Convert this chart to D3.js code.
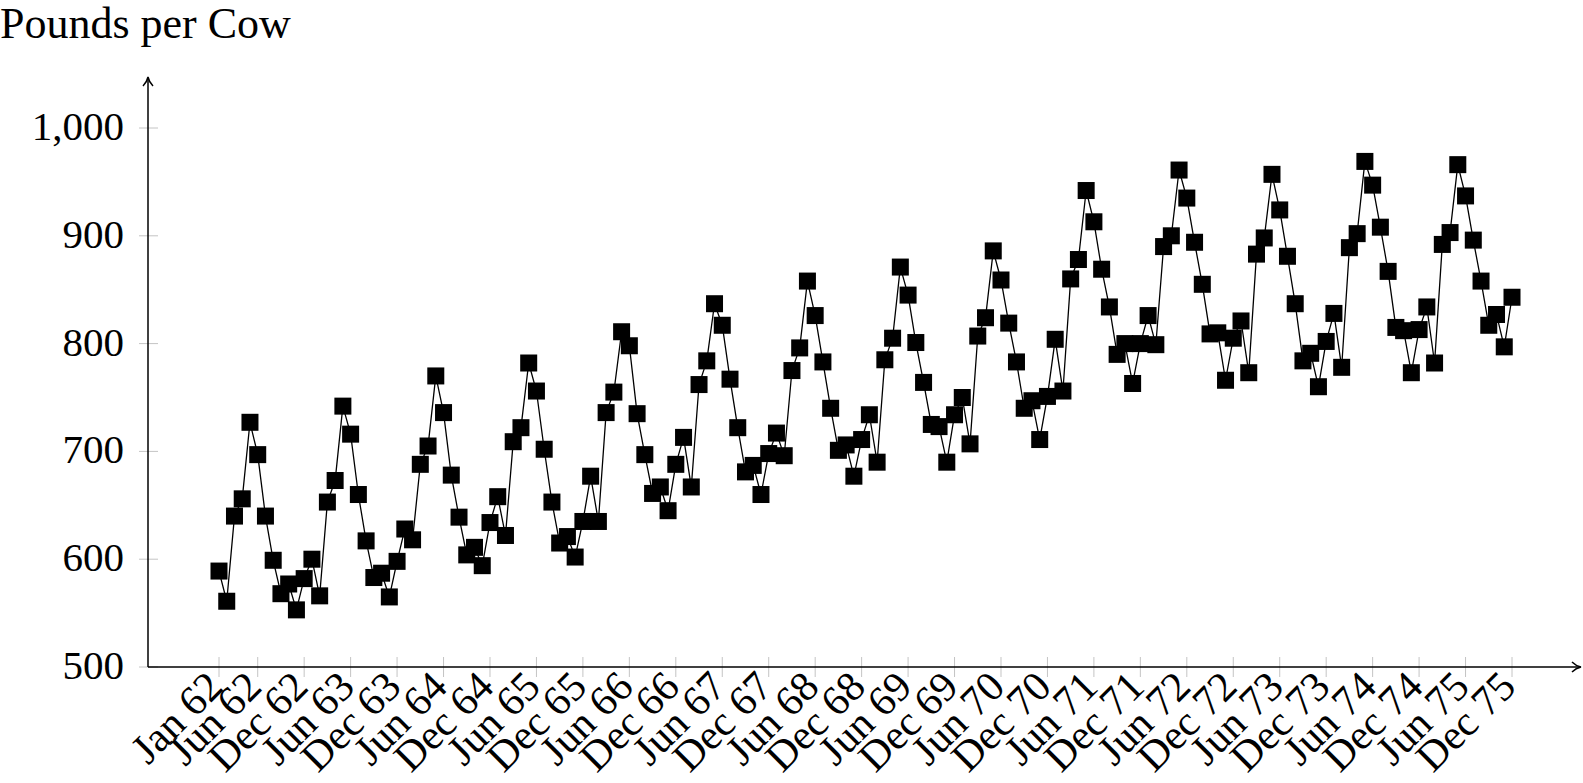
<!DOCTYPE html>
<html>
<head>
<meta charset="utf-8">
<script src="https://cdn.jsdelivr.net/npm/d3@7"></script>
<style>
  body { margin: 0; background: #fff; }
  text { font-family: "Liberation Serif", "Times New Roman", serif; fill: #000; }
</style>
</head>
<body>
<svg id="chart" width="1583" height="783"></svg>
<script>
// data: monthly milk production, pounds per cow, Jan 62 - Dec 75
var years = ['62','63','64','65','66','67','68','69','70','71','72','73','74','75']
var monthNames = ['Jan','Feb','Mar','Apr','May','Jun','Jul','Aug','Sep','Oct','Nov','Dec']
var production = [
  589, 561, 640, 656, 727, 697, 640, 599, 568, 577, 553, 582,
  600, 566, 653, 673, 742, 716, 660, 617, 583, 587, 565, 598,
  628, 618, 688, 705, 770, 736, 678, 639, 604, 611, 594, 634,
  658, 622, 709, 722, 782, 756, 702, 653, 615, 621, 602, 635,
  677, 635, 736, 755, 811, 798, 735, 697, 661, 667, 645, 688,
  713, 667, 762, 784, 837, 817, 767, 722, 681, 687, 660, 698,
  717, 696, 775, 796, 858, 826, 783, 740, 701, 706, 677, 711,
  734, 690, 785, 805, 871, 845, 801, 764, 725, 723, 690, 734,
  750, 707, 807, 824, 886, 859, 819, 783, 740, 747, 711, 751,
  804, 756, 860, 878, 942, 913, 869, 834, 790, 800, 763, 800,
  826, 799, 890, 900, 961, 935, 894, 855, 809, 810, 766, 805,
  821, 773, 883, 898, 957, 924, 881, 837, 784, 791, 760, 802,
  828, 778, 889, 902, 969, 947, 908, 867, 815, 812, 773, 813,
  834, 782, 892, 903, 966, 937, 896, 858, 817, 827, 797, 843
]
var yTicks = [500, 600, 700, 800, 900, 1000]
var yLabel = 'Pounds per Cow'

// month labels, built from the names above
var months = []
years.forEach(function (y) {
  monthNames.forEach(function (m) { months.push(m + ' ' + y) })
})
// labelled ticks: Jan 62, then every 6 months from Jun 62
var xTicks = [months[0]]
for (var i = 5; i < months.length; i += 6) xTicks.push(months[i])

var svg = d3.select('#chart')

var x = d3.scalePoint().domain(months).range([219, 1512])
var y = d3.scaleLinear().domain([500, 1000]).range([667, 128])

var x0 = 148, yBase = 667

// tick marks (light grey)
svg.append('g').selectAll('line').data(xTicks).join('line')
  .attr('x1', function (d) { return x(d) }).attr('x2', function (d) { return x(d) })
  .attr('y1', yBase - 10).attr('y2', yBase + 10)
  .attr('stroke', '#c4c4c4').attr('stroke-width', 1)
svg.append('g').selectAll('line').data(yTicks).join('line')
  .attr('x1', x0 - 9).attr('x2', x0 + 10)
  .attr('y1', function (d) { return y(d) }).attr('y2', function (d) { return y(d) })
  .attr('stroke', '#c4c4c4').attr('stroke-width', 1)

// axes with arrow heads
function arrowHead(tx, ty, dir) {
  var d
  if (dir === 'up') d = 'M' + [tx - 5, ty + 9] + 'Q' + [tx - 1, ty + 5] + ' ' + [tx, ty] + 'Q' + [tx + 1, ty + 5] + ' ' + [tx + 5, ty + 9]
  else d = 'M' + [tx - 9, ty - 5] + 'Q' + [tx - 5, ty - 1] + ' ' + [tx, ty] + 'Q' + [tx - 5, ty + 1] + ' ' + [tx - 9, ty + 5]
  svg.append('path').attr('d', d)
    .attr('fill', 'none').attr('stroke', '#000').attr('stroke-width', 1.5)
}
svg.append('line').attr('x1', x0).attr('x2', x0).attr('y1', yBase).attr('y2', 78)
  .attr('stroke', '#000').attr('stroke-width', 1.5)
svg.append('line').attr('x1', x0).attr('x2', 1580).attr('y1', yBase).attr('y2', yBase)
  .attr('stroke', '#000').attr('stroke-width', 1.5)
arrowHead(x0, 77, 'up')
arrowHead(1581, yBase, 'right')

// y tick labels
svg.append('g').selectAll('text').data(yTicks).join('text')
  .attr('x', 124).attr('y', function (d) { return y(d) + 12 })
  .attr('text-anchor', 'end').attr('font-size', 41)
  .text(d3.format(','))

// x tick labels, rotated 45 deg
svg.append('g').selectAll('text').data(xTicks).join('text')
  .attr('transform', function (d) { return 'translate(' + (x(d) - 3) + ',' + (yBase + 13) + ') rotate(-45)' })
  .attr('text-anchor', 'end').attr('dy', '0.3em').attr('font-size', 42)
  .text(function (d) { return d })

// axis title
svg.append('text').attr('x', 0).attr('y', 38).attr('font-size', 44).text(yLabel)

// series line
var line = d3.line()
  .x(function (d, i) { return x(months[i]) })
  .y(function (d) { return y(d) })
svg.append('path').datum(production).attr('d', line)
  .attr('fill', 'none').attr('stroke', '#000').attr('stroke-width', 1.3)

// square markers
var s = 17
svg.append('g').selectAll('rect').data(production).join('rect')
  .attr('x', function (d, i) { return x(months[i]) - s / 2 })
  .attr('y', function (d) { return y(d) - s / 2 })
  .attr('width', s).attr('height', s)
  .attr('fill', '#000')
</script>
</body>
</html>
